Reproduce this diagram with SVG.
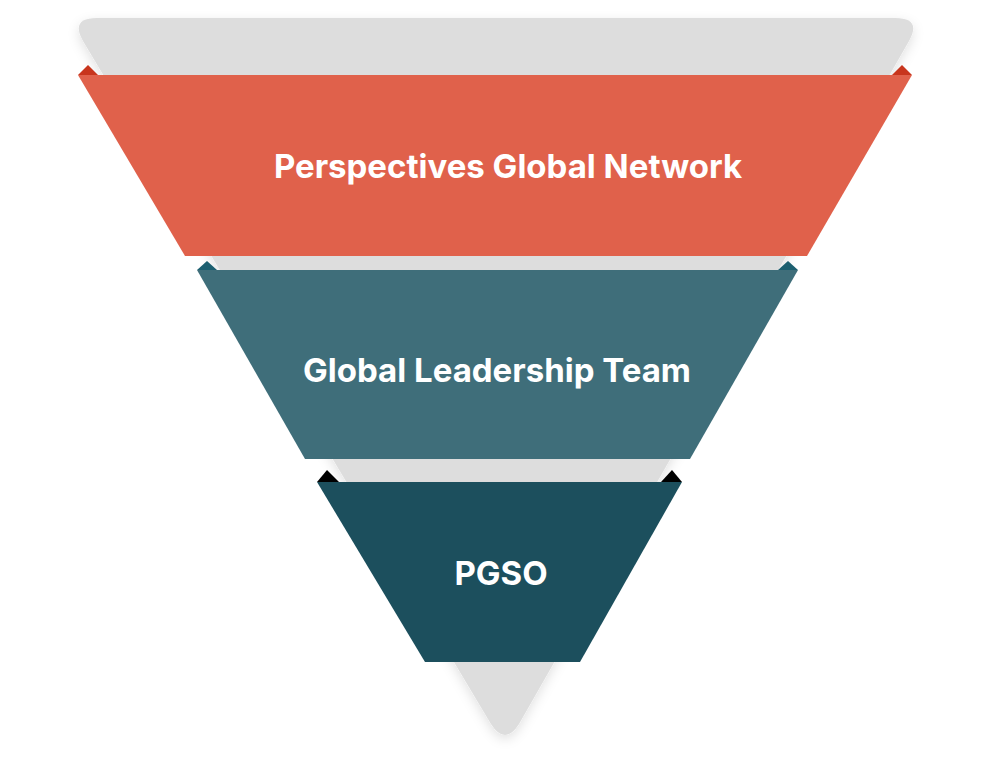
<svg xmlns="http://www.w3.org/2000/svg" width="990" height="775" viewBox="0 0 990 775">
<defs>
<filter id="sh" x="-10%" y="-10%" width="120%" height="120%"><feDropShadow dx="0" dy="4" stdDeviation="6" flood-color="#000" flood-opacity="0.12"/></filter>
<style>
text{font-family:Inter,"Noto Sans",sans-serif;font-weight:700;font-size:33px;fill:#fff;text-anchor:middle;dominant-baseline:central}
</style>
</defs>
<rect width="990" height="775" fill="#fff"/>
<g id="background">
<path d="M97,18 L895,18 Q922,18 909,41 L519,724 Q505,746 491,724 L83,41 Q70,18 97,18 Z" fill="#dddddd" filter="url(#sh)"/>
</g>
<g id="node-network">
<polygon points="78,75 88,65 98,75" fill="#c8351d"/>
<polygon points="892,75 902,65 912,75" fill="#c8351d"/>
<polygon points="78,75 912,75 807,256 185,256" fill="#e0614b"/>
<text x="508" y="166">Perspectives Global Network</text>
</g>
<g id="node-glt">
<polygon points="197,270 207,261 217,270" fill="#1c5f70"/>
<polygon points="778,270 788,261 798,270" fill="#1c5f70"/>
<polygon points="197,270 798,270 690,459 305,459" fill="#3f6e7a"/>
<text x="497" y="370">Global Leadership Team</text>
</g>
<g id="node-pgso">
<polygon points="317,482 327,470 339,482" fill="#000"/>
<polygon points="661,482 672,470 682,482" fill="#000"/>
<polygon points="317,482 682,482 580,662 425,662" fill="#1c4f5d"/>
<text x="501" y="573">PGSO</text>
</g>
<g id="connectors"/>
</svg>
